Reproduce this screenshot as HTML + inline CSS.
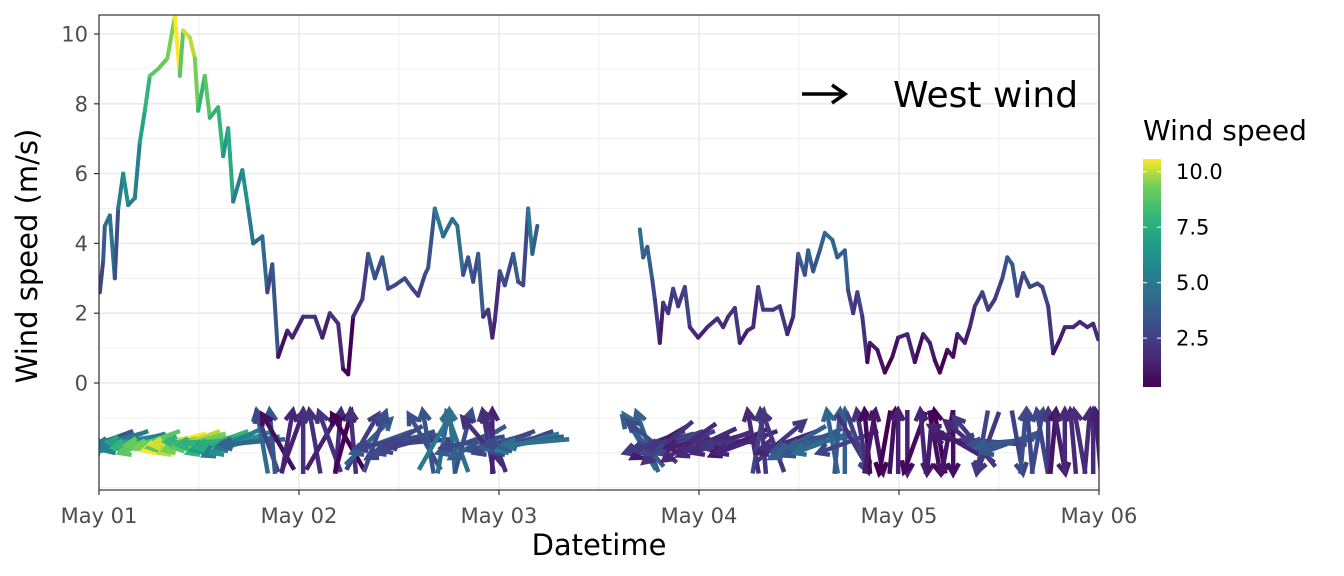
<!DOCTYPE html>
<html><head><meta charset="utf-8"><style>
body{margin:0;background:#fff;}
svg{display:block;font-family:"DejaVu Sans","Liberation Sans",sans-serif;}
</style></head><body>
<svg id="chart" width="1344" height="576">
<defs>
<linearGradient id="vir" x1="0" y1="1" x2="0" y2="0">
<stop offset="0" stop-color="#440154"/><stop offset="0.13" stop-color="#482878"/><stop offset="0.25" stop-color="#3e4989"/><stop offset="0.38" stop-color="#31688e"/><stop offset="0.5" stop-color="#26828e"/><stop offset="0.63" stop-color="#1f9e89"/><stop offset="0.75" stop-color="#35b779"/><stop offset="0.88" stop-color="#6ece58"/><stop offset="1" stop-color="#fde725"/>
</linearGradient>
<clipPath id="pc"><rect x="99" y="15" width="1000" height="475"/></clipPath>
</defs>
<g id="grid"></g>
<g id="marks" clip-path="url(#pc)"></g>
<rect x="99" y="15" width="1000" height="475" fill="none" stroke="#333" stroke-width="1.2"/>
<g id="axes"></g>
<text x="599" y="555" text-anchor="middle" font-size="29" fill="#000">Datetime</text>
<text transform="translate(37,256) rotate(-90)" text-anchor="middle" font-size="29" fill="#000">Wind speed (m/s)</text>
<g>
<line x1="802" y1="94" x2="842" y2="94" stroke="#000" stroke-width="3.5"/>
<polyline points="832,85 845,94 832,103" fill="none" stroke="#000" stroke-width="3.5"/>
<text x="893" y="107" font-size="36" fill="#000">West wind</text>
</g>
<g>
<text x="1143" y="140" font-size="28" fill="#000">Wind speed</text>
<rect x="1143" y="159" width="18" height="228" fill="url(#vir)"/>
<g id="leg"></g>
</g>
</svg>
<script>
const hours1=[0.1,0.5,0.7,1.3,1.9,2.3,2.9,3.5,4.3,4.9,5.5,6.1,7.1,8.2,9.1,9.7,10.1,10.9,11.5,11.9,12.7,13.3,14.3,14.9,15.5,16.1,17.2,17.9,18.5,19.6,20.2,20.8,21.5,22.6,23.2,24.5,25.9,26.8,27.7,28.7,29.3,29.9,30.5,31.6,32.3,33.1,34,34.7,35.5,36.7,37.6,38.3,39.1,39.5,40.3,41.3,42.4,43,43.7,44.3,44.9,45.5,46.1,46.7,47.2,47.5,48.1,48.7,49.7,50.3,50.9,51.5,52,52.6];
const speed1=[2.6,3.5,4.5,4.8,3.0,5.0,6.0,5.1,5.3,6.9,7.8,8.8,9.0,9.3,10.5,8.8,10.1,9.9,9.3,7.8,8.8,7.6,7.9,6.5,7.3,5.2,6.1,5.0,4.0,4.2,2.6,3.4,0.75,1.5,1.3,1.9,1.9,1.3,2.0,1.7,0.4,0.25,1.9,2.4,3.7,3.0,3.6,2.7,2.8,3.0,2.7,2.5,3.1,3.3,5.0,4.2,4.7,4.5,3.1,3.6,2.9,3.7,1.9,2.1,1.3,1.8,3.2,2.8,3.7,2.9,2.8,5.0,3.7,4.5];
const dir1=[190,200,185,195,180,200,190,185,195,180,190,200,185,190,195,190,185,200,195,180,190,185,200,195,190,205,200,190,185,100,110,95,120,80,70,90,100,60,110,85,75,120,95,60,45,70,200,190,210,200,195,185,120,100,60,80,95,110,75,200,190,210,130,100,90,110,195,200,190,185,200,195,190,185];
const hours2=[64.9,65.3,65.8,66.4,66.7,67.3,67.7,68.3,68.9,69.5,70.3,70.9,71.9,73,74.2,74.9,75.5,76.3,76.9,77.8,78.5,79.1,79.7,80.9,81.7,82.6,83.3,83.9,84.7,85.1,85.7,86.5,87.1,88,88.6,89.5,89.9,90.5,91,91.6,92.2,92.5,93.4,94.3,95.2,95.9,97,97.9,98.9,99.7,100.3,100.9,101.8,102.5,103,103.9,104.5,105.1,106,106.7,107.5,108.4,109,109.6,110.2,110.9,111.7,112.6,113.2,113.9,114.5,115.3,115.9,116.9,117.7,118.6,119.3,119.9];
const speed2=[4.4,3.6,3.9,2.95,2.4,1.15,2.3,2.0,2.7,2.2,2.75,1.6,1.3,1.6,1.85,1.6,1.9,2.15,1.15,1.5,1.6,2.75,2.1,2.1,2.2,1.4,1.9,3.7,3.1,3.8,3.2,3.8,4.3,4.1,3.6,3.8,2.65,2.0,2.6,1.9,0.6,1.15,0.95,0.3,0.75,1.3,1.4,0.6,1.4,1.15,0.65,0.3,0.95,0.75,1.4,1.15,1.6,2.2,2.6,2.1,2.4,3.0,3.6,3.4,2.5,3.15,2.75,2.85,2.75,2.2,0.85,1.25,1.6,1.6,1.75,1.6,1.7,1.25];
const dir2=[120,130,110,140,200,210,195,220,200,190,200,215,190,205,195,200,180,190,205,200,100,80,95,110,40,200,190,210,195,200,205,190,200,100,85,90,200,-60,-70,100,95,80,-80,-100,85,90,-90,-110,95,-95,-80,100,-100,-90,150,170,140,130,-100,-110,175,185,190,200,-80,85,95,80,100,90,85,-80,90,95,100,85,90,95];
const yTicks=[0,2,4,6,8,10];
const xTickLabels=["May 01","May 02","May 03","May 04","May 05","May 06"];
const legendTicks=[2.5,5.0,7.5,10.0];

const NS="http://www.w3.org/2000/svg";
const X=h=>99+h/24*200;
const Y=v=>383-v*34.9;
const stops=["#440154","#482878","#3e4989","#31688e","#26828e","#1f9e89","#35b779","#6ece58","#fde725"];
function hex(c){return [1,3,5].map(i=>parseInt(c.substr(i,2),16));}
function vir(v){let t=(v-0.3)/(10.5-0.3);t=Math.max(0,Math.min(1,t))*8;const i=Math.min(7,Math.floor(t)),f=t-i;const a=hex(stops[i]),b=hex(stops[i+1]);return "rgb("+a.map((q,k)=>Math.round(q+(b[k]-q)*f)).join(",")+")";}
function el(tag,attrs,parent){const e=document.createElementNS(NS,tag);for(const k in attrs)e.setAttribute(k,attrs[k]);parent.appendChild(e);return e;}
const grid=document.getElementById('grid'),marks=document.getElementById('marks'),axes=document.getElementById('axes'),leg=document.getElementById('leg');
for(let v=-3;v<=10;v++){const l=el('line',{x1:99,x2:1099,y1:Y(v),y2:Y(v),stroke:'#ebebeb','stroke-width':(v>=0&&v%2==0)?1.6:0.8},grid);

}
for(let d=0;d<=10;d++){const l=el('line',{x1:X(d*12),x2:X(d*12),y1:15,y2:490,stroke:'#ebebeb','stroke-width':d%2==0?1.6:0.8},grid);

}
const yBase=442,len=64;
function arrows(hrs,spd,dir){hrs.forEach((h,i)=>{const xc=X(h),a=dir[i]*Math.PI/180;const dx=len/2*Math.cos(a),dy=-len/2*Math.sin(a);
const x0=xc-dx,y0=yBase-dy,x1=xc+dx,y1=yBase+dy;const c=vir(spd[i]);
const g=el('g',{stroke:c,'stroke-width':4.5,fill:'none','stroke-linecap':'butt'},marks);


el('line',{x1:x0,y1:y0,x2:x1,y2:y1},g);
const h1=a+Math.PI-0.5,h2=a+Math.PI+0.5;
el('polyline',{points:`${x1+12*Math.cos(h1)},${y1-12*Math.sin(h1)} ${x1},${y1} ${x1+12*Math.cos(h2)},${y1-12*Math.sin(h2)}`},g);});}
arrows(hours1,speed1,dir1);arrows(hours2,speed2,dir2);
function line(hrs,spd){for(let i=0;i<hrs.length-1;i++){const s=el('line',{x1:X(hrs[i]),y1:Y(spd[i]),x2:X(hrs[i+1]),y2:Y(spd[i+1]),stroke:vir(spd[i]),'stroke-width':4,'stroke-linecap':'round'},marks);

}}
line(hours1,speed1);line(hours2,speed2);
yTicks.forEach(v=>{el('line',{x1:94,x2:99,y1:Y(v),y2:Y(v),stroke:'#333','stroke-width':1.2},axes);
const t=el('text',{x:88,y:Y(v)+7.5,'text-anchor':'end','font-size':21,fill:'#4d4d4d'},axes);t.textContent=v;

});
xTickLabels.forEach((s,i)=>{el('line',{x1:X(i*24),x2:X(i*24),y1:490,y2:495,stroke:'#333','stroke-width':1.2},axes);
const t=el('text',{x:X(i*24),y:523,'text-anchor':'middle','font-size':21,fill:'#4d4d4d'},axes);t.textContent=s;

});
legendTicks.forEach(v=>{const y=387-(v-0.3)*22.2;
el('line',{x1:1143,x2:1147,y1:y,y2:y,stroke:'#fff','stroke-width':1},leg);el('line',{x1:1157,x2:1161,y1:y,y2:y,stroke:'#fff','stroke-width':1},leg);
const t=el('text',{x:1176,y:y+7.5,'font-size':21,fill:'#000'},leg);t.textContent=v.toFixed(1);

});
</script>
</body></html>
